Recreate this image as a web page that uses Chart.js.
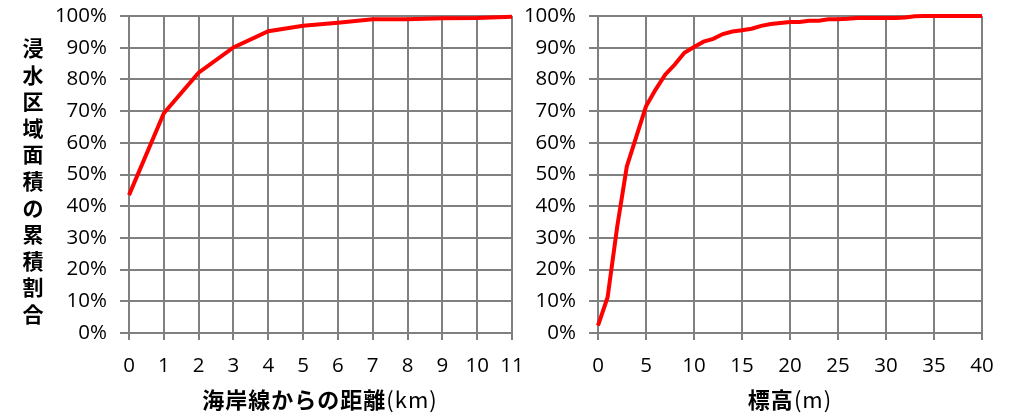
<!DOCTYPE html>
<html>
<head>
<meta charset="utf-8">
<script src="https://cdn.jsdelivr.net/npm/chart.js@4"></script>
<style>
body { margin: 0; background: #fff; width: 1016px; height: 413px; position: relative; overflow: hidden; font-family: "Noto Sans CJK JP", sans-serif; color: #000; }
.box { position: absolute; top: 0; height: 413px; }
#leftBox { left: 0; width: 560px; }
#rightBox { left: 516px; width: 500px; }
.ytitle { position: absolute; left: 20px; top: 34px; width: 26px; font-weight: bold; font-size: 21px; line-height: 26.6px; text-align: center; }
.xtitle { position: absolute; top: 385px; font-size: 22px; line-height: 26px; white-space: nowrap; transform: translateX(-50%); letter-spacing: 1px; }
.xtitle b { font-weight: bold; }
</style>
</head>
<body>
<div class="box" id="leftBox"><canvas id="distance-chart"></canvas></div>
<div class="box" id="rightBox"><canvas id="elevation-chart"></canvas></div>
<div class="ytitle">浸<br>水<br>区<br>域<br>面<br>積<br>の<br>累<br>積<br>割<br>合</div>
<div class="xtitle" style="left:320px"><b>海岸線からの距離</b>(km)</div>
<div class="xtitle" style="left:790px"><b>標高</b>(m)</div>
<script>
// Distance from coastline (km) vs cumulative share of flooded area (%)
const distKm = [0, 1, 2, 3, 4, 5, 6, 7, 8, 9, 10, 11];
const distShare = [43.5, 69.3, 82.1, 90.1, 95.2, 96.9, 97.9, 99.0, 99.0, 99.3, 99.4, 99.8];

// Elevation (m) vs cumulative share of flooded area (%)
const elevM = [0, 1, 2, 3, 4, 5, 6, 7, 8, 9, 10, 11, 12, 13, 14, 15, 16, 17, 18, 19, 20,
    21, 22, 23, 24, 25, 26, 27, 28, 29, 30, 31, 32, 33, 34, 35, 36, 37, 38, 39, 40];
const elevShare = [2.3, 11.3, 33.5, 52.5, 62.0, 71.5, 76.8, 81.5, 84.7, 88.4, 90.2,
    91.9, 92.8, 94.3, 95.1, 95.5, 96.0, 96.9, 97.5, 97.8, 98.1,
    98.1, 98.5, 98.5, 99.0, 99.0, 99.1, 99.4, 99.4, 99.4, 99.4,
    99.4, 99.5, 99.9, 100, 100, 100, 100, 100, 100, 100];

const yTicks = [0, 10, 20, 30, 40, 50, 60, 70, 80, 90, 100];

const tickFont = { family: '"Open Sans", sans-serif', size: 20.5, lineHeight: 1 };
const gridGray = '#808080';

function makeOptions(xMax, xStep, yWidth, padRight) {
    return {
        responsive: true,
        maintainAspectRatio: false,
        animation: false,
        layout: { padding: { top: 16, right: padRight, bottom: 0, left: 0 } },
        plugins: { legend: { display: false }, tooltip: { enabled: false } },
        scales: {
            x: {
                type: 'linear',
                min: 0,
                max: xMax,
                afterFit: (scale) => { scale.height = 80; scale.paddingLeft = 0; scale.paddingRight = 0; },
                ticks: { stepSize: xStep, autoSkip: false, maxRotation: 0, color: '#000', font: tickFont, padding: 16 },
                grid: { color: gridGray, lineWidth: 2, tickLength: 7 },
                border: { color: gridGray, width: 2 }
            },
            y: {
                min: 0,
                max: 100,
                afterFit: (scale) => { scale.width = yWidth; scale.paddingTop = 0; scale.paddingBottom = 0; },
                afterBuildTicks: (scale) => { scale.ticks = yTicks.map(v => ({ value: v })); },
                ticks: { color: '#000', font: tickFont, padding: 13, callback: (v) => v + '%' },
                grid: { color: gridGray, lineWidth: 2, tickLength: 9 },
                border: { color: gridGray, width: 2 }
            }
        }
    };
}

const distCtx = document.getElementById('distance-chart').getContext('2d');
const distChart = new Chart(distCtx, {
    type: 'line',
    data: {
        datasets: [{
            data: distKm.map((x, i) => ({ x: x, y: distShare[i] })),
            borderColor: '#ff0000',
            borderWidth: 4,
            pointRadius: 0,
            tension: 0,
            clip: 5,
            fill: false
        }]
    },
    options: makeOptions(11, 1, 129, 48)
});

const elevCtx = document.getElementById('elevation-chart').getContext('2d');
const elevChart = new Chart(elevCtx, {
    type: 'line',
    data: {
        datasets: [{
            data: elevM.map((x, i) => ({ x: x, y: elevShare[i] })),
            borderColor: '#ff0000',
            borderWidth: 4,
            pointRadius: 0,
            tension: 0,
            clip: 5,
            fill: false
        }]
    },
    options: makeOptions(40, 5, 82, 34)
});
</script>
</body>
</html>
